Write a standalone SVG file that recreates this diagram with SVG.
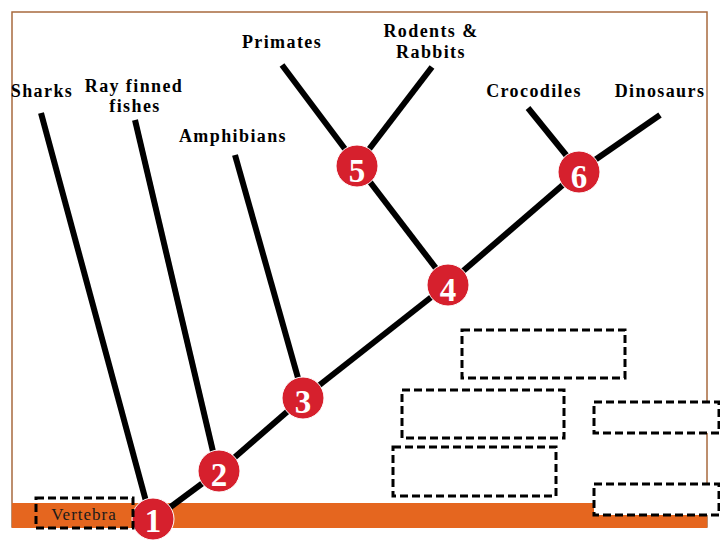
<svg xmlns="http://www.w3.org/2000/svg" width="720" height="540" viewBox="0 0 720 540">
<style>
.lbl{font-family:"Liberation Serif","DejaVu Serif",serif;font-weight:bold;font-size:18px;letter-spacing:1.4px;fill:#000;text-anchor:middle}
.br{stroke:#000;stroke-width:6;fill:none}
.node circle{fill:#D6202D;stroke:#fff;stroke-width:1}
.node text{font-family:"Liberation Serif","DejaVu Serif",serif;font-weight:bold;font-size:33px;fill:#fff;text-anchor:middle}
.box{fill:#fff;stroke:#000;stroke-width:3;stroke-dasharray:8,4}
</style>
<rect x="0" y="0" width="720" height="540" fill="#fff"/>
<rect x="12" y="12" width="695" height="515" fill="none" stroke="#A86A3E" stroke-width="1.5"/>
<rect x="12" y="503" width="695" height="25" fill="#E5661F"/>

<g id="labels">
<text class="lbl" x="282" y="48">Primates</text>
<text class="lbl" x="42" y="97">Sharks</text>
<text class="lbl" x="134" y="92">Ray finned</text>
<text class="lbl" x="135" y="112">fishes</text>
<text class="lbl" x="233" y="142">Amphibians</text>
<text class="lbl" x="431" y="37">Rodents &amp;</text>
<text class="lbl" x="431" y="58">Rabbits</text>
<text class="lbl" x="534" y="97">Crocodiles</text>
<text class="lbl" x="660" y="97">Dinosaurs</text>
</g>

<g id="connectors" class="br">
<line x1="41" y1="113" x2="147" y2="505"/>
<line x1="135" y1="120" x2="215" y2="460"/>
<line x1="235" y1="155" x2="300" y2="385"/>
<line x1="282" y1="65" x2="357" y2="165"/>
<line x1="432" y1="67" x2="357" y2="165"/>
<line x1="357" y1="165" x2="448" y2="284"/>
<line x1="528" y1="108" x2="579" y2="171"/>
<line x1="579" y1="171" x2="660" y2="115"/>
<line x1="153" y1="520" x2="219" y2="471"/>
<line x1="219" y1="471" x2="303" y2="398"/>
<line x1="303" y1="398" x2="448" y2="284"/>
<line x1="448" y1="284" x2="579" y2="171"/>
</g>

<g id="n1" class="node"><circle cx="153" cy="519" r="21"/><text x="153" y="532">1</text></g>
<g id="n2" class="node"><circle cx="219" cy="471" r="21"/><text x="219" y="486">2</text></g>
<g id="n3" class="node"><circle cx="303" cy="398" r="21"/><text x="303" y="413">3</text></g>
<g id="n4" class="node"><circle cx="448" cy="285" r="21"/><text x="448" y="301">4</text></g>
<g id="n5" class="node"><circle cx="357" cy="166" r="21"/><text x="357" y="182">5</text></g>
<g id="n6" class="node"><circle cx="579" cy="172" r="21"/><text x="579" y="188">6</text></g>

<g id="vertebra">
<rect x="36" y="498" width="97" height="30" fill="none" stroke="#000" stroke-width="3" stroke-dasharray="8,4"/>
<text x="84" y="520" font-family="'Liberation Serif','DejaVu Serif',serif" font-size="17" letter-spacing="1" fill="#1a1a1a" text-anchor="middle">Vertebra</text>
</g>
<g id="boxA"><rect class="box" x="462" y="330" width="163" height="48"/></g>
<g id="boxB"><rect class="box" x="402" y="390" width="162" height="48"/></g>
<g id="boxC"><rect class="box" x="393" y="447" width="163" height="49"/></g>
<g id="boxD"><rect class="box" x="594" y="402" width="125" height="31"/></g>
<g id="boxE"><rect class="box" x="594" y="484" width="125" height="31"/></g>
</svg>
